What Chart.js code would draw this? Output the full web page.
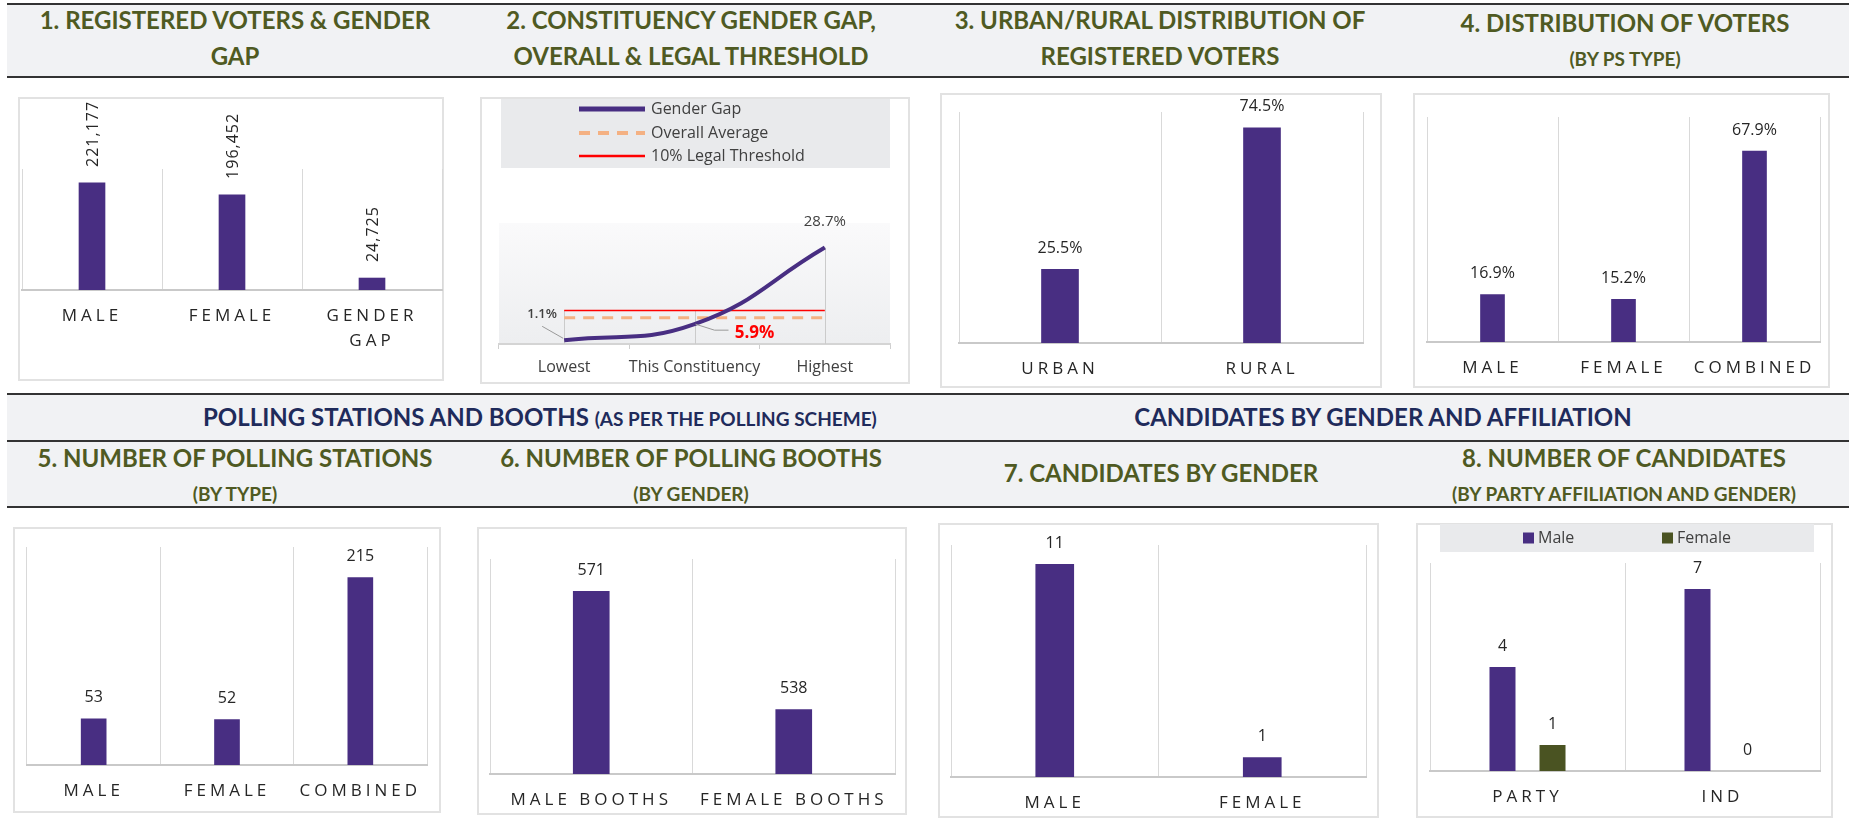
<!DOCTYPE html>
<html>
<head>
<meta charset="utf-8">
<script src="https://cdn.jsdelivr.net/npm/chart.js@4"></script>
<style>
  body { margin: 0; background: #fff; width: 1855px; height: 820px; position: relative; overflow: hidden; }
  .band { position: absolute; left: 7px; width: 1842px; background: #f1f2f4; box-sizing: border-box; }
  .head { position: absolute; width: 520px; text-align: center; font-family: Lato, sans-serif; font-weight: bold;
          color: #4f5a22; font-size: 24px; line-height: 36px; white-space: nowrap; }
  .head small { font-size: 19px; }
  .sect { color: #1f2b5b; }
  .box { position: absolute; box-sizing: border-box; border: 2px solid #e2e2e2; background: #fff; }
  canvas { position: absolute; }
</style>
</head>
<body>
<!-- header bands -->
<div class="band" style="top:3px;height:75px;border-top:2px solid #333;border-bottom:2px solid #333"></div>
<div class="band" style="top:393px;height:49px;border-top:2px solid #333;border-bottom:2px solid #333"></div>
<div class="band" style="top:442px;height:66px;border-bottom:2px solid #333"></div>

<div class="head" style="left:-25px;top:2px">1. REGISTERED VOTERS &amp; GENDER<br>GAP</div>
<div class="head" style="left:431px;top:2px">2. CONSTITUENCY GENDER GAP,<br>OVERALL &amp; LEGAL THRESHOLD</div>
<div class="head" style="left:900px;top:2px">3. URBAN/RURAL DISTRIBUTION OF<br>REGISTERED VOTERS</div>
<div class="head" style="left:1365px;top:6px;line-height:34px">4. DISTRIBUTION OF VOTERS<br><small>(BY PS TYPE)</small></div>

<div class="head sect" style="left:203px;top:399px">POLLING STATIONS AND BOOTHS <small>(AS PER THE POLLING SCHEME)</small></div>
<div class="head sect" style="left:1123px;top:399px">CANDIDATES BY GENDER AND AFFILIATION</div>

<div class="head" style="left:-25px;top:441px;line-height:34px">5. NUMBER OF POLLING STATIONS<br><small>(BY TYPE)</small></div>
<div class="head" style="left:431px;top:441px;line-height:34px">6. NUMBER OF POLLING BOOTHS<br><small>(BY GENDER)</small></div>
<div class="head" style="left:901px;top:455px">7. CANDIDATES BY GENDER</div>
<div class="head" style="left:1364px;top:441px;line-height:34px">8. NUMBER OF CANDIDATES<br><small>(BY PARTY AFFILIATION AND GENDER)</small></div>

<!-- panel frames and canvases -->
<div class="box" style="left:18px;top:97px;width:426px;height:284px"></div>
<canvas id="c1" width="426" height="284" style="left:18px;top:97px"></canvas>
<div class="box" style="left:480px;top:97px;width:430px;height:287px"></div>
<canvas id="c2" width="430" height="287" style="left:480px;top:97px"></canvas>
<div class="box" style="left:940px;top:93px;width:442px;height:295px"></div>
<canvas id="c3" width="442" height="295" style="left:940px;top:93px"></canvas>
<div class="box" style="left:1413px;top:93px;width:417px;height:295px"></div>
<canvas id="c4" width="417" height="295" style="left:1413px;top:93px"></canvas>
<div class="box" style="left:13px;top:527px;width:428px;height:286px"></div>
<canvas id="c5" width="428" height="286" style="left:13px;top:527px"></canvas>
<div class="box" style="left:477px;top:527px;width:430px;height:288px"></div>
<canvas id="c6" width="430" height="288" style="left:477px;top:527px"></canvas>
<div class="box" style="left:938px;top:523px;width:441px;height:295px"></div>
<canvas id="c7" width="441" height="295" style="left:938px;top:523px"></canvas>
<div class="box" style="left:1416px;top:523px;width:417px;height:295px"></div>
<canvas id="c8" width="417" height="295" style="left:1416px;top:523px"></canvas>

<script>
// 1. Registered voters & gender gap
const voterCats = ['MALE', 'FEMALE', ['GENDER', 'GAP']];
const voterValues = [221177, 196452, 24725];
// 2. Constituency gender gap (%)
const gapCats = ['Lowest', 'This Constituency', 'Highest'];
const gapValues = [1.1, 5.9, 28.7];
const overallAverage = [7.8, 7.8, 7.8];
const legalThreshold = [10, 10, 10];
// 3. Urban / rural (%)
const areaCats = ['URBAN', 'RURAL'];
const areaValues = [25.5, 74.5];
// 4. Voters by PS type (%)
const psTypeCats = ['MALE', 'FEMALE', 'COMBINED'];
const psTypeValues = [16.9, 15.2, 67.9];
// 5. Polling stations by type
const stationCats = ['MALE', 'FEMALE', 'COMBINED'];
const stationValues = [53, 52, 215];
// 6. Polling booths by gender
const boothCats = ['MALE BOOTHS', 'FEMALE BOOTHS'];
const boothValues = [571, 538];
// 7. Candidates by gender
const candCats = ['MALE', 'FEMALE'];
const candValues = [11, 1];
// 8. Candidates by affiliation and gender
const affCats = ['PARTY', 'IND'];
const affMale = [4, 7];
const affFemale = [1, 0];

const purple = '#482e82';
const olive = '#4a5322';

// letter spaced category labels (only while the axes are drawn)
const tickSpacing = {
    id: 'tickSpacing',
    beforeDraw(chart, args, opts) {
        chart.ctx.letterSpacing = opts.spacing || '0px';
    },
    beforeDatasetsDraw(chart) {
        chart.ctx.letterSpacing = '0px';
    }
};

// value labels above the bars
const valueLabels = {
    id: 'valueLabels',
    afterDatasetsDraw(chart, args, opts) {
        if (!opts.font) return;
        const ctx = chart.ctx;
        ctx.save();
        ctx.font = opts.font;
        ctx.fillStyle = '#262626';
        ctx.letterSpacing = opts.spacing || '0px';
        chart.data.datasets.forEach((ds, di) => {
            chart.getDatasetMeta(di).data.forEach((bar, i) => {
                const v = ds.data[i];
                let text = String(v);
                if (opts.kind === 'thousands') text = v.toLocaleString('en-US');
                if (opts.kind === 'percent') text = v.toFixed(1) + '%';
                if (opts.rotate) {
                    ctx.save();
                    ctx.translate(bar.x + 1, bar.y - opts.gap);
                    ctx.rotate(-Math.PI / 2);
                    ctx.textAlign = 'left';
                    ctx.textBaseline = 'middle';
                    ctx.fillText(text, 0, 0);
                    ctx.restore();
                } else {
                    ctx.textAlign = 'center';
                    ctx.textBaseline = 'middle';
                    ctx.fillText(text, bar.x, bar.y - opts.gap);
                }
            });
        });
        ctx.restore();
    }
};

// grey legend panel drawn from the datasets
const panelLegend = {
    id: 'panelLegend',
    afterDraw(chart, args, opts) {
        if (!opts.box) return;
        const ctx = chart.ctx;
        const [bx, by, bw, bh] = opts.box;
        ctx.save();
        ctx.fillStyle = opts.fill;
        ctx.fillRect(bx, by, bw, bh);
        ctx.font = opts.font;
        ctx.textAlign = 'left';
        ctx.textBaseline = 'middle';
        chart.data.datasets.forEach((ds, i) => {
            const p = opts.items[i];
            if (opts.marker === 'line') {
                ctx.strokeStyle = ds.borderColor;
                ctx.lineWidth = ds.borderWidth + 1;
                ctx.setLineDash(ds.borderDash || []);
                ctx.beginPath();
                ctx.moveTo(p.x, p.y);
                ctx.lineTo(p.x + opts.size, p.y);
                ctx.stroke();
                ctx.setLineDash([]);
            } else {
                ctx.fillStyle = ds.backgroundColor;
                ctx.fillRect(p.x, p.y - opts.size / 2, opts.size, opts.size);
            }
            ctx.fillStyle = '#404040';
            ctx.fillText(ds.label, p.x + opts.size + opts.gap, p.y);
        });
        ctx.restore();
    }
};

// background, drop lines and point labels of the gender gap chart
const gapExtras = {
    id: 'gapExtras',
    beforeDraw(chart) {
        const {ctx, chartArea: a} = chart;
        const g = ctx.createLinearGradient(0, a.top, 0, a.bottom);
        g.addColorStop(0, '#fafafb');
        g.addColorStop(1, '#edeef0');
        ctx.save();
        ctx.fillStyle = g;
        ctx.fillRect(a.left, a.top, a.width, a.height);
        ctx.restore();
    },
    beforeDatasetsDraw(chart) {
        const {ctx, chartArea: a} = chart;
        const metas = chart.data.datasets.map((ds, i) => chart.getDatasetMeta(i));
        ctx.save();
        ctx.strokeStyle = '#cbcbcb';
        ctx.lineWidth = 1;
        metas[0].data.forEach((pt, i) => {
            const top = Math.min(...metas.map(m => m.data[i].y));
            ctx.beginPath();
            ctx.moveTo(Math.round(pt.x) + 0.5, top);
            ctx.lineTo(Math.round(pt.x) + 0.5, a.bottom);
            ctx.stroke();
        });
        ctx.restore();
    },
    afterDatasetsDraw(chart) {
        const ctx = chart.ctx;
        const pts = chart.getDatasetMeta(0).data;
        const vals = chart.data.datasets[0].data;
        ctx.save();
        ctx.strokeStyle = '#9a9a9a';
        ctx.lineWidth = 1;
        // lowest
        ctx.beginPath();
        ctx.moveTo(pts[0].x - 22, pts[0].y - 14);
        ctx.lineTo(pts[0].x - 1, pts[0].y - 2);
        // this constituency
        ctx.moveTo(pts[1].x + 1, pts[1].y);
        ctx.lineTo(pts[1].x + 20, pts[1].y + 6);
        ctx.lineTo(pts[1].x + 34, pts[1].y + 6);
        ctx.stroke();
        ctx.textAlign = 'center';
        ctx.textBaseline = 'middle';
        ctx.fillStyle = '#404040';
        ctx.font = '600 13px "Open Sans"';
        ctx.fillText(vals[0].toFixed(1) + '%', pts[0].x - 22, pts[0].y - 26);
        ctx.font = '15px "Open Sans"';
        ctx.fillText(vals[2].toFixed(1) + '%', pts[2].x, pts[2].y - 26);
        ctx.fillStyle = '#ff0000';
        ctx.font = 'bold 17px "Open Sans"';
        ctx.fillText(vals[1].toFixed(1) + '%', pts[1].x + 60, pts[1].y + 9);
        ctx.restore();
    }
};

function makeBars(id, labels, datasets, cfg) {
    return new Chart(document.getElementById(id), {
        type: 'bar',
        data: { labels: labels, datasets: datasets },
        options: {
            responsive: false,
            animation: false,
            devicePixelRatio: 1,
            layout: { padding: cfg.pad },
            scales: {
                x: {
                    grid: { color: '#d9d9d9', offset: true, drawTicks: false },
                    border: { color: '#c9c9c9', width: 2 },
                    ticks: {
                        color: '#262626', padding: 14, autoSkip: false, maxRotation: 0,
                        font: { family: 'Open Sans', size: 17, lineHeight: 1.45 }
                    },
                    afterFit: s => { s.height = cfg.axisH; }
                },
                y: { display: false, min: cfg.min || 0, max: cfg.max }
            },
            plugins: {
                legend: { display: false },
                tooltip: { enabled: false },
                tickSpacing: { spacing: '4px' },
                valueLabels: cfg.labels,
                panelLegend: cfg.legend || {}
            }
        },
        plugins: [tickSpacing, valueLabels, panelLegend]
    });
}

// 1
makeBars('c1', voterCats, [{ data: voterValues, backgroundColor: purple, barThickness: 26 }], {
    pad: { left: 4, right: 2, top: 72, bottom: 0 }, axisH: 91, max: 250000,
    labels: { font: '16px "Open Sans"', kind: 'thousands', rotate: true, gap: 16, spacing: '1px' }
});

// 2
new Chart(document.getElementById('c2'), {
    type: 'line',
    data: {
        labels: gapCats,
        datasets: [
            { label: 'Gender Gap', data: gapValues, borderColor: purple, borderWidth: 4, tension: 0.45, pointRadius: 0 },
            { label: 'Overall Average', data: overallAverage, borderColor: '#f4b183', borderWidth: 3, borderDash: [11, 8], pointRadius: 0 },
            { label: '10% Legal Threshold', data: legalThreshold, borderColor: '#ff0000', borderWidth: 1.5, pointRadius: 0 }
        ]
    },
    options: {
        responsive: false,
        animation: false,
        devicePixelRatio: 1,
        layout: { padding: { left: 19, right: 20, top: 126, bottom: 0 } },
        scales: {
            x: {
                offset: true,
                grid: { offset: true, drawOnChartArea: false, tickLength: 5, color: '#cfcfcf' },
                border: { color: '#d4d4d4', width: 2 },
                ticks: {
                    color: '#404040', padding: 9, autoSkip: false, maxRotation: 0, minRotation: 0,
                    font: { family: 'Open Sans', size: 16 }
                },
                afterFit: s => { s.height = 40; }
            },
            y: { display: false, min: 0, max: 36 }
        },
        plugins: {
            legend: { display: false },
            tooltip: { enabled: false },
            panelLegend: {
                box: [21, 2, 389, 69], fill: '#e9eaec', font: '16px "Open Sans"', marker: 'line', size: 66, gap: 6,
                items: [{ x: 99, y: 12 }, { x: 99, y: 36 }, { x: 99, y: 59 }]
            }
        }
    },
    plugins: [gapExtras, panelLegend]
});

// 3
makeBars('c3', areaCats, [{ data: areaValues, backgroundColor: purple, barThickness: 37 }], {
    pad: { left: 19, right: 19, top: 19, bottom: 0 }, axisH: 45, max: 80,
    labels: { font: '16px "Open Sans"', kind: 'percent', gap: 21 }
});

// 4
makeBars('c4', psTypeCats, [{ data: psTypeValues, backgroundColor: purple, barThickness: 24 }], {
    pad: { left: 14, right: 10, top: 24, bottom: 0 }, axisH: 46, max: 80,
    labels: { font: '16px "Open Sans"', kind: 'percent', gap: 21 }
});

// 5
makeBars('c5', stationCats, [{ data: stationValues, backgroundColor: purple, barThickness: 25 }], {
    pad: { left: 14, right: 14, top: 20, bottom: 0 }, axisH: 48, max: 250,
    labels: { font: '16px "Open Sans"', gap: 21 }
});

// 6
makeBars('c6', boothCats, [{ data: boothValues, backgroundColor: purple, barThickness: 36, base: 520 }], {
    pad: { left: 13, right: 12, top: 32, bottom: 0 }, axisH: 41, min: 520, max: 580,
    labels: { font: '16px "Open Sans"', gap: 21 }
});

// 7
makeBars('c7', candCats, [{ data: candValues, backgroundColor: purple, barThickness: 38 }], {
    pad: { left: 13, right: 13, top: 22, bottom: 0 }, axisH: 41, max: 12,
    labels: { font: '16px "Open Sans"', gap: 21 }
});

// 8
makeBars('c8', affCats, [
    { label: 'Male', data: affMale, backgroundColor: purple, barPercentage: 0.52, categoryPercentage: 0.513 },
    { label: 'Female', data: affFemale, backgroundColor: olive, barPercentage: 0.52, categoryPercentage: 0.513 }
], {
    pad: { left: 14, right: 13, top: 40, bottom: 0 }, axisH: 47, max: 8,
    labels: { font: '16px "Open Sans"', gap: 21 },
    legend: {
        box: [24, 1, 374, 28], fill: '#e9eaec', font: '16px "Open Sans"', marker: 'box', size: 11, gap: 4,
        items: [{ x: 107, y: 15 }, { x: 246, y: 15 }]
    }
});
</script>
</body>
</html>
